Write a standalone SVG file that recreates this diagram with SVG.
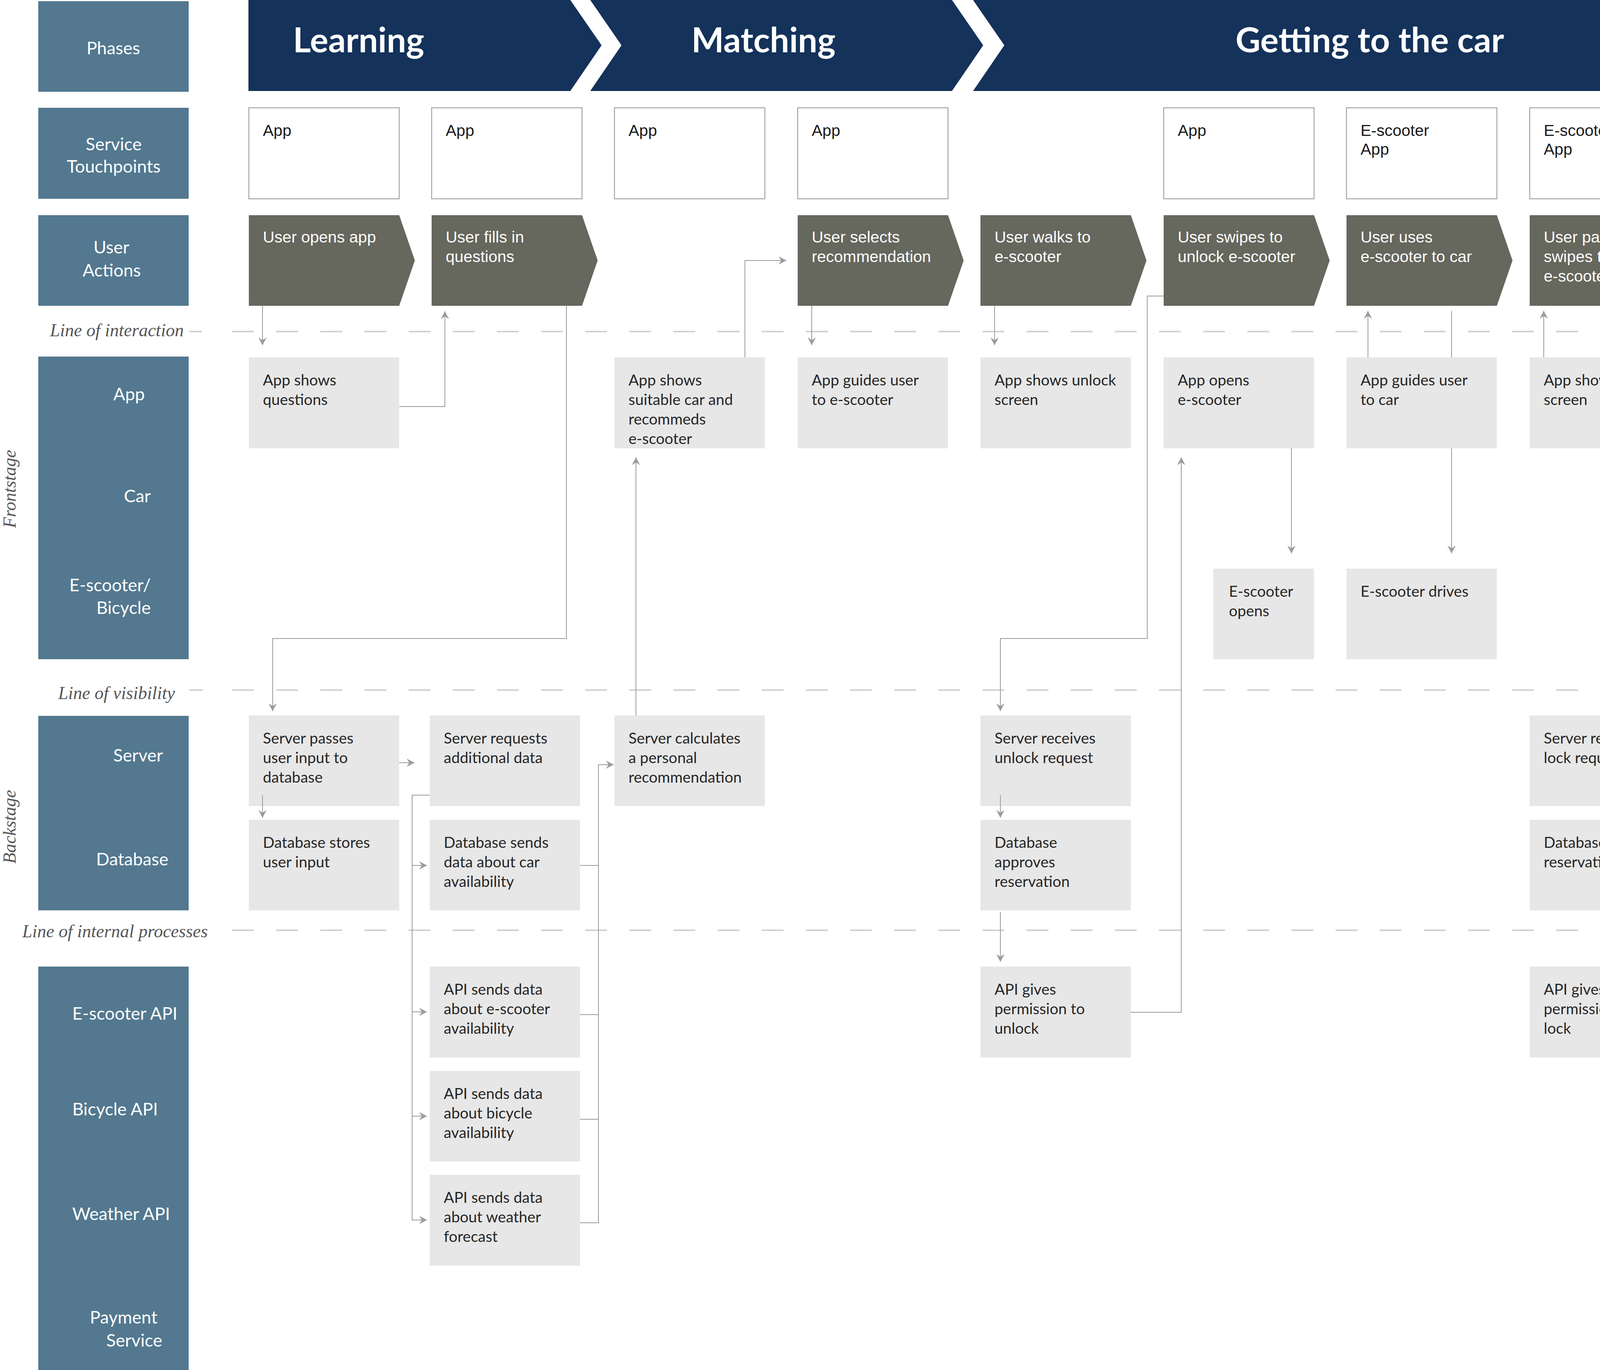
<svg xmlns="http://www.w3.org/2000/svg" width="7991" height="3508" viewBox="0 0 7991 3508">
<style>
.lbl{fill:#53788F}
.lt{font-family:Lato,"Liberation Sans",sans-serif;font-size:45px;fill:#ffffff}
.ph{fill:#14325A}
.pt{font-family:Lato,"Liberation Sans",sans-serif;font-weight:bold;font-size:88px;fill:#ffffff}
.pts{font-family:"Liberation Serif",serif;font-weight:bold;font-size:92px;fill:#ffffff}
.tp{fill:#ffffff;stroke:#a6a6a6;stroke-width:2.5}
.tpt{font-family:"Liberation Sans",sans-serif;font-size:41px;fill:#1a1a1a}
.ua{fill:#66675D}
.uat{font-family:"Liberation Sans",sans-serif;font-size:41px;fill:#ffffff}
.bx{fill:#E7E7E7}
.bt{font-family:Lato,"Liberation Sans",sans-serif;font-size:39px;fill:#262626}
.pay{font-family:"Liberation Sans",sans-serif;font-size:37px;fill:#262626}
.cn{fill:none;stroke:#9a9ba0;stroke-width:2}
.dl{stroke:#d2d2d2;stroke-width:4}
.ll{font-family:"Liberation Serif",serif;font-style:italic;font-size:46px;fill:#555555}
</style>
<defs>
<marker id="ah" markerUnits="userSpaceOnUse" markerWidth="22" markerHeight="22" refX="20" refY="10.5" orient="auto">
<path d="M0,0 L20,10.5 L0,21 L7,10.5 z" fill="#9a9ba0"/>
</marker>
</defs>
<rect x="0" y="0" width="7991" height="3508" fill="#ffffff"/>

<g id="lines">
<line class="dl" x1="485" y1="849" x2="517" y2="849"/>
<line class="dl" x1="594" y1="849" x2="7991" y2="849" stroke-dasharray="56 57"/>
<line class="dl" x1="485" y1="1767" x2="519" y2="1767"/>
<line class="dl" x1="594" y1="1767" x2="7991" y2="1767" stroke-dasharray="56 57"/>
<line class="dl" x1="594" y1="2382" x2="7991" y2="2382" stroke-dasharray="56 57"/>
<text class="ll" x="128" y="861">Line of interaction</text>
<text class="ll" x="149" y="1790">Line of visibility</text>
<text class="ll" x="57" y="2400">Line of internal processes</text>
<text class="ll" transform="translate(40,1252) rotate(-90)" text-anchor="middle">Frontstage</text>
<text class="ll" transform="translate(40,2117) rotate(-90)" text-anchor="middle">Backstage</text>
</g>

<g id="lane-labels">
<rect class="lbl" x="98" y="3" width="385" height="232"/>
<text class="lt" x="290" y="139" text-anchor="middle">Phases</text>
<rect class="lbl" x="98" y="276" width="385" height="233"/>
<text class="lt" x="291" y="385" text-anchor="middle">Service</text>
<text class="lt" x="291" y="442" text-anchor="middle">Touchpoints</text>
<rect class="lbl" x="98" y="551" width="385" height="232"/>
<text class="lt" x="285" y="649" text-anchor="middle">User</text>
<text class="lt" x="286" y="708" text-anchor="middle">Actions</text>
<rect class="lbl" x="98" y="913" width="385" height="775"/>
<text class="lt" x="290" y="1025">App</text>
<text class="lt" x="386" y="1286" text-anchor="end">Car</text>
<text class="lt" x="386" y="1514" text-anchor="end">E-scooter/</text>
<text class="lt" x="386" y="1572" text-anchor="end">Bicycle</text>
<rect class="lbl" x="98" y="1833" width="385" height="498"/>
<text class="lt" x="290" y="1950">Server</text>
<text class="lt" x="246" y="2216">Database</text>
<rect class="lbl" x="98" y="2475" width="385" height="1033"/>
<text class="lt" x="185" y="2611">E-scooter API</text>
<text class="lt" x="185" y="2856">Bicycle API</text>
<text class="lt" x="185" y="3124">Weather API</text>
<text class="lt" x="230" y="3389">Payment</text>
<text class="lt" x="272" y="3448">Service</text>
</g>

<g id="phase-learning"><polygon class="ph" points="636,0 1460,0 1540,116 1460,233 636,233"/><text class="pt" x="750" y="134">Learning</text></g>
<g id="phase-matching"><polygon class="ph" points="1511,0 2437,0 2517,116 2437,233 1511,233 1591,116"/><text class="pt" x="1770" y="134">Matching</text></g>
<g id="phase-getting"><polygon class="ph" points="2491,0 4807,0 4887,116 4807,233 2491,233 2571,116"/><text class="pt" x="3163" y="134">Getting to the car</text></g>
<g id="phase-using"><polygon class="ph" points="4865,0 7816,0 7896,116 7816,233 4865,233 4945,116"/><text class="pts" x="6317" y="134">Using the car</text></g>

<g id="tp-0"><rect class="tp" x="637" y="276" width="385" height="233"/><text class="tpt" x="673" y="348">App</text></g>
<g id="tp-1"><rect class="tp" x="1105" y="276" width="385" height="233"/><text class="tpt" x="1141" y="348">App</text></g>
<g id="tp-2"><rect class="tp" x="1573" y="276" width="385" height="233"/><text class="tpt" x="1609" y="348">App</text></g>
<g id="tp-3"><rect class="tp" x="2042" y="276" width="385" height="233"/><text class="tpt" x="2078" y="348">App</text></g>
<g id="tp-5"><rect class="tp" x="2979" y="276" width="385" height="233"/><text class="tpt" x="3015" y="348">App</text></g>
<g id="tp-6"><rect class="tp" x="3447" y="276" width="385" height="233"/><text class="tpt" x="3483" y="348">E-scooter</text><text class="tpt" x="3483" y="396">App</text></g>
<g id="tp-7"><rect class="tp" x="3916" y="276" width="385" height="233"/><text class="tpt" x="3952" y="348">E-scooter</text><text class="tpt" x="3952" y="396">App</text></g>
<g id="tp-9"><rect class="tp" x="4923" y="276" width="385" height="233"/><text class="tpt" x="4959" y="348">App</text></g>
<g id="tp-10"><rect class="tp" x="5392" y="276" width="385" height="233"/><text class="tpt" x="5428" y="348">App</text><text class="tpt" x="5428" y="396">Car</text></g>
<g id="tp-11"><rect class="tp" x="5860" y="276" width="385" height="233"/><text class="tpt" x="5896" y="348">Car</text></g>
<g id="tp-12"><rect class="tp" x="6328" y="276" width="385" height="233"/><text class="tpt" x="6364" y="348">App</text><text class="tpt" x="6364" y="396">Car</text></g>
<g id="tp-13"><rect class="tp" x="6796" y="276" width="385" height="233"/><text class="tpt" x="6832" y="348">App</text><text class="tpt" x="6832" y="396">Car</text></g>
<g id="tp-14"><rect class="tp" x="7265" y="276" width="385" height="233"/><text class="tpt" x="7301" y="348">App</text><text class="tpt" x="7301" y="396">Car</text></g>

<g id="ua-0"><polygon class="ua" points="637,551 1022,551 1062,667 1022,783 637,783"/><text class="uat" x="673" y="621">User opens app</text></g>
<g id="ua-1"><polygon class="ua" points="1105,551 1490,551 1530,667 1490,783 1105,783"/><text class="uat" x="1141" y="621">User fills in</text><text class="uat" x="1141" y="671">questions</text></g>
<g id="ua-3"><polygon class="ua" points="2042,551 2427,551 2467,667 2427,783 2042,783"/><text class="uat" x="2078" y="621">User selects</text><text class="uat" x="2078" y="671">recommendation</text></g>
<g id="ua-4"><polygon class="ua" points="2510,551 2895,551 2935,667 2895,783 2510,783"/><text class="uat" x="2546" y="621">User walks to</text><text class="uat" x="2546" y="671">e-scooter</text></g>
<g id="ua-5"><polygon class="ua" points="2979,551 3364,551 3404,667 3364,783 2979,783"/><text class="uat" x="3015" y="621">User swipes to</text><text class="uat" x="3015" y="671">unlock e-scooter</text></g>
<g id="ua-6"><polygon class="ua" points="3447,551 3832,551 3872,667 3832,783 3447,783"/><text class="uat" x="3483" y="621">User uses</text><text class="uat" x="3483" y="671">e-scooter to car</text></g>
<g id="ua-7"><polygon class="ua" points="3916,551 4301,551 4341,667 4301,783 3916,783"/><text class="uat" x="3952" y="621">User parks and</text><text class="uat" x="3952" y="671">swipes to lock</text><text class="uat" x="3952" y="721">e-scooter</text></g>
<g id="ua-9"><polygon class="ua" points="4923,551 5308,551 5348,667 5308,783 4923,783"/><text class="uat" x="4959" y="621">User walks to</text><text class="uat" x="4959" y="671">car</text></g>
<g id="ua-10"><polygon class="ua" points="5392,551 5777,551 5817,667 5777,783 5392,783"/><text class="uat" x="5428" y="621">User swipes to</text><text class="uat" x="5428" y="671">unlock car</text></g>
<g id="ua-11"><polygon class="ua" points="5860,551 6245,551 6285,667 6245,783 5860,783"/><text class="uat" x="5896" y="621">User uses car</text></g>
<g id="ua-12"><polygon class="ua" points="6328,551 6713,551 6753,667 6713,783 6328,783"/><text class="uat" x="6364" y="621">User parks and</text><text class="uat" x="6364" y="671">swipes to ends</text><text class="uat" x="6364" y="721">car rental</text></g>

<g id="app-0"><rect class="bx" x="637" y="915" width="385" height="233"/><text class="bt" x="673" y="987">App shows</text><text class="bt" x="673" y="1037">questions</text></g>
<g id="app-2"><rect class="bx" x="1573" y="915" width="385" height="233"/><text class="bt" x="1609" y="987">App shows</text><text class="bt" x="1609" y="1037">suitable car and</text><text class="bt" x="1609" y="1087">recommeds</text><text class="bt" x="1609" y="1137">e-scooter</text></g>
<g id="app-3"><rect class="bx" x="2042" y="915" width="385" height="233"/><text class="bt" x="2078" y="987">App guides user</text><text class="bt" x="2078" y="1037">to e-scooter</text></g>
<g id="app-4"><rect class="bx" x="2510" y="915" width="385" height="233"/><text class="bt" x="2546" y="987">App shows unlock</text><text class="bt" x="2546" y="1037">screen</text></g>
<g id="app-5"><rect class="bx" x="2979" y="915" width="385" height="233"/><text class="bt" x="3015" y="987">App opens</text><text class="bt" x="3015" y="1037">e-scooter</text></g>
<g id="app-6"><rect class="bx" x="3447" y="915" width="385" height="233"/><text class="bt" x="3483" y="987">App guides user</text><text class="bt" x="3483" y="1037">to car</text></g>
<g id="app-7"><rect class="bx" x="3916" y="915" width="385" height="233"/><text class="bt" x="3952" y="987">App shows lock</text><text class="bt" x="3952" y="1037">screen</text></g>
<g id="app-8"><rect class="bx" x="4386" y="915" width="385" height="233"/><text class="bt" x="4422" y="987">App locks</text><text class="bt" x="4422" y="1037">e-scooter</text></g>
<g id="app-9"><rect class="bx" x="4923" y="915" width="385" height="233"/><text class="bt" x="4959" y="987">App shows unlock</text><text class="bt" x="4959" y="1037">screen</text></g>
<g id="app-10"><rect class="bx" x="5392" y="915" width="385" height="233"/><text class="bt" x="5428" y="987">App opens car</text></g>
<g id="app-12"><rect class="bx" x="6328" y="915" width="385" height="233"/><text class="bt" x="6364" y="987">App shows end</text><text class="bt" x="6364" y="1037">rental screen</text></g>
<g id="app-13"><rect class="bx" x="6796" y="915" width="385" height="233"/><text class="bt" x="6832" y="987">App locks car</text></g>
<g id="app-14"><rect class="bx" x="7265" y="915" width="385" height="233"/><text class="bt" x="7301" y="987">App shows</text><text class="bt" x="7301" y="1037">confirmation and</text><text class="bt" x="7301" y="1087">shows price</text></g>

<g id="car-10"><rect class="bx" x="5518" y="1182" width="258" height="233"/><text class="bt" x="5556" y="1254">Car opens</text></g>
<g id="car-11"><rect class="bx" x="5860" y="1182" width="256" height="233"/><text class="bt" x="5896" y="1254">Car drives</text></g>
<g id="car-13"><rect class="bx" x="6921" y="1182" width="256" height="233"/><text class="bt" x="6958" y="1254">Car locks</text></g>

<g id="esc-5"><rect class="bx" x="3106" y="1456" width="258" height="232"/><text class="bt" x="3146" y="1528">E-scooter</text><text class="bt" x="3146" y="1578">opens</text></g>
<g id="esc-6"><rect class="bx" x="3447" y="1456" width="385" height="232"/><text class="bt" x="3483" y="1528">E-scooter drives</text></g>
<g id="esc-8"><rect class="bx" x="4386" y="1456" width="385" height="232"/><text class="bt" x="4422" y="1528">E-scooter locks</text></g>

<g id="srv-0"><rect class="bx" x="637" y="1832" width="385" height="232"/><text class="bt" x="673" y="1904">Server passes</text><text class="bt" x="673" y="1954">user input to</text><text class="bt" x="673" y="2004">database</text></g>
<g id="srv-1"><rect class="bx" x="1100" y="1832" width="385" height="232"/><text class="bt" x="1136" y="1904">Server requests</text><text class="bt" x="1136" y="1954">additional data</text></g>
<g id="srv-2"><rect class="bx" x="1573" y="1832" width="385" height="232"/><text class="bt" x="1609" y="1904">Server calculates</text><text class="bt" x="1609" y="1954">a personal</text><text class="bt" x="1609" y="2004">recommendation</text></g>
<g id="srv-4"><rect class="bx" x="2510" y="1832" width="385" height="232"/><text class="bt" x="2546" y="1904">Server receives</text><text class="bt" x="2546" y="1954">unlock request</text></g>
<g id="srv-7"><rect class="bx" x="3916" y="1832" width="385" height="232"/><text class="bt" x="3952" y="1904">Server receives</text><text class="bt" x="3952" y="1954">lock request</text></g>
<g id="srv-9"><rect class="bx" x="4923" y="1830" width="385" height="232"/><text class="bt" x="4959" y="1902">Server receives</text><text class="bt" x="4959" y="1952">unlock request</text></g>
<g id="srv-10"><rect class="bx" x="5412" y="1830" width="385" height="232"/><text class="bt" x="5448" y="1902">Server receives</text><text class="bt" x="5448" y="1952">unlock request</text></g>
<g id="srv-12"><rect class="bx" x="6328" y="1830" width="385" height="232"/><text class="bt" x="6364" y="1902">Server locks car</text></g>
<g id="srv-13"><rect class="bx" x="6796" y="1830" width="385" height="232"/><text class="bt" x="6832" y="1902">Server calculates</text><text class="bt" x="6832" y="1952">price</text></g>

<g id="db-0"><rect class="bx" x="637" y="2099" width="385" height="232"/><text class="bt" x="673" y="2171">Database stores</text><text class="bt" x="673" y="2221">user input</text></g>
<g id="db-1"><rect class="bx" x="1100" y="2099" width="385" height="232"/><text class="bt" x="1136" y="2171">Database sends</text><text class="bt" x="1136" y="2221">data about car</text><text class="bt" x="1136" y="2271">availability</text></g>
<g id="db-4"><rect class="bx" x="2510" y="2099" width="385" height="232"/><text class="bt" x="2546" y="2171">Database</text><text class="bt" x="2546" y="2221">approves</text><text class="bt" x="2546" y="2271">reservation</text></g>
<g id="db-7"><rect class="bx" x="3916" y="2099" width="385" height="232"/><text class="bt" x="3952" y="2171">Database checks</text><text class="bt" x="3952" y="2221">reservation</text></g>
<g id="db-9"><rect class="bx" x="4923" y="2095" width="385" height="232"/><text class="bt" x="4959" y="2167">Database</text><text class="bt" x="4959" y="2217">approves</text><text class="bt" x="4959" y="2267">reservation</text></g>

<g id="api-escooter-1"><rect class="bx" x="1100" y="2475" width="385" height="233"/><text class="bt" x="1136" y="2547">API sends data</text><text class="bt" x="1136" y="2597">about e-scooter</text><text class="bt" x="1136" y="2647">availability</text></g>
<g id="api-unlock-4"><rect class="bx" x="2510" y="2475" width="385" height="233"/><text class="bt" x="2546" y="2547">API gives</text><text class="bt" x="2546" y="2597">permission to</text><text class="bt" x="2546" y="2647">unlock</text></g>
<g id="api-lock-7"><rect class="bx" x="3916" y="2475" width="385" height="233"/><text class="bt" x="3952" y="2547">API gives</text><text class="bt" x="3952" y="2597">permission to</text><text class="bt" x="3952" y="2647">lock</text></g>
<g id="api-bicycle-1"><rect class="bx" x="1100" y="2742" width="385" height="232"/><text class="bt" x="1136" y="2814">API sends data</text><text class="bt" x="1136" y="2864">about bicycle</text><text class="bt" x="1136" y="2914">availability</text></g>
<g id="api-weather-1"><rect class="bx" x="1100" y="3008" width="385" height="233"/><text class="bt" x="1136" y="3080">API sends data</text><text class="bt" x="1136" y="3130">about weather</text><text class="bt" x="1136" y="3180">forecast</text></g>
<g id="pay-14"><rect class="bx" x="7266" y="3275" width="385" height="233"/><text class="pay" x="7303" y="3340">Payment service</text><text class="pay" x="7303" y="3384">handles payment</text><text class="pay" x="7303" y="3428">from credit-card</text></g>

<g id="connectors">
<path class="cn" marker-end="url(#ah)" d="M672,783 V884"/>
<path class="cn" marker-end="url(#ah)" d="M1022,1041 H1139 V797"/>
<path class="cn" marker-end="url(#ah)" d="M1450,783 V1635 H698 V1821"/>
<path class="cn" marker-end="url(#ah)" d="M672,2036 V2094"/>
<path class="cn" marker-end="url(#ah)" d="M1022,1953 H1061"/>
<path class="cn" marker-end="url(#ah)" d="M1100,2036 H1055 V3124 H1093"/>
<path class="cn" marker-end="url(#ah)" d="M1055,2216 H1093"/>
<path class="cn" marker-end="url(#ah)" d="M1055,2591 H1093"/>
<path class="cn" marker-end="url(#ah)" d="M1055,2858 H1093"/>
<path class="cn" d="M1485,2216 H1532"/>
<path class="cn" d="M1485,2598 H1532"/>
<path class="cn" d="M1485,2866 H1532"/>
<path class="cn" marker-end="url(#ah)" d="M1485,3131 H1532 V1958 H1571"/>
<path class="cn" marker-end="url(#ah)" d="M1628,1832 V1171"/>
<path class="cn" marker-end="url(#ah)" d="M1907,915 V667 H2013"/>
<path class="cn" marker-end="url(#ah)" d="M2078,783 V884"/>
<path class="cn" marker-end="url(#ah)" d="M2546,783 V884"/>
<path class="cn" marker-end="url(#ah)" d="M2979,758 H2937 V1635 H2561 V1821"/>
<path class="cn" marker-end="url(#ah)" d="M2561,2036 V2094"/>
<path class="cn" marker-end="url(#ah)" d="M2561,2335 V2463"/>
<path class="cn" marker-end="url(#ah)" d="M2895,2592 H3024 V1171"/>
<path class="cn" marker-end="url(#ah)" d="M3306,1148 V1417"/>
<path class="cn" marker-end="url(#ah)" d="M3502,915 V796"/>
<path class="cn" marker-end="url(#ah)" d="M3716,796 V915 M3716,1148 V1417"/>
<path class="cn" marker-end="url(#ah)" d="M3952,915 V796"/>
<path class="cn" marker-end="url(#ah)" d="M4254,783 V915 M4254,1148 V1812"/>
<path class="cn" marker-end="url(#ah)" d="M4254,2036 V2094"/>
<path class="cn" marker-end="url(#ah)" d="M4254,2315 V2458"/>
<path class="cn" marker-end="url(#ah)" d="M4301,2592 H4430 V1688 M4430,1456 V1171"/>
<path class="cn" marker-end="url(#ah)" d="M4710,1148 V1417"/>
<path class="cn" marker-end="url(#ah)" d="M4959,783 V884"/>
<path class="cn" marker-end="url(#ah)" d="M5392,758 H5349 V1632 H4974 V1812"/>
<path class="cn" marker-end="url(#ah)" d="M4974,2032 V2090"/>
<path class="cn" marker-end="url(#ah)" d="M5308,1945 H5400"/>
<path class="cn" marker-end="url(#ah)" d="M5438,1830 V1171"/>
<path class="cn" marker-end="url(#ah)" d="M5897,783 V1163"/>
<path class="cn" marker-end="url(#ah)" d="M6362,915 V796"/>
<path class="cn" marker-end="url(#ah)" d="M6618,783 V915 M6618,1148 V1812"/>
<path class="cn" marker-end="url(#ah)" d="M6713,1945 H6785"/>
<path class="cn" marker-end="url(#ah)" d="M6754,1945 V1024 H6785"/>
<path class="cn" marker-end="url(#ah)" d="M7121,1148 V1171"/>
<path class="cn" marker-end="url(#ah)" d="M7181,1945 H7228 V1024 H7257"/>
<path class="cn" marker-end="url(#ah)" d="M6856,2062 V3384 H7251"/>
<path class="cn" marker-end="url(#ah)" d="M7568,3275 V1178"/>
</g>
</svg>
